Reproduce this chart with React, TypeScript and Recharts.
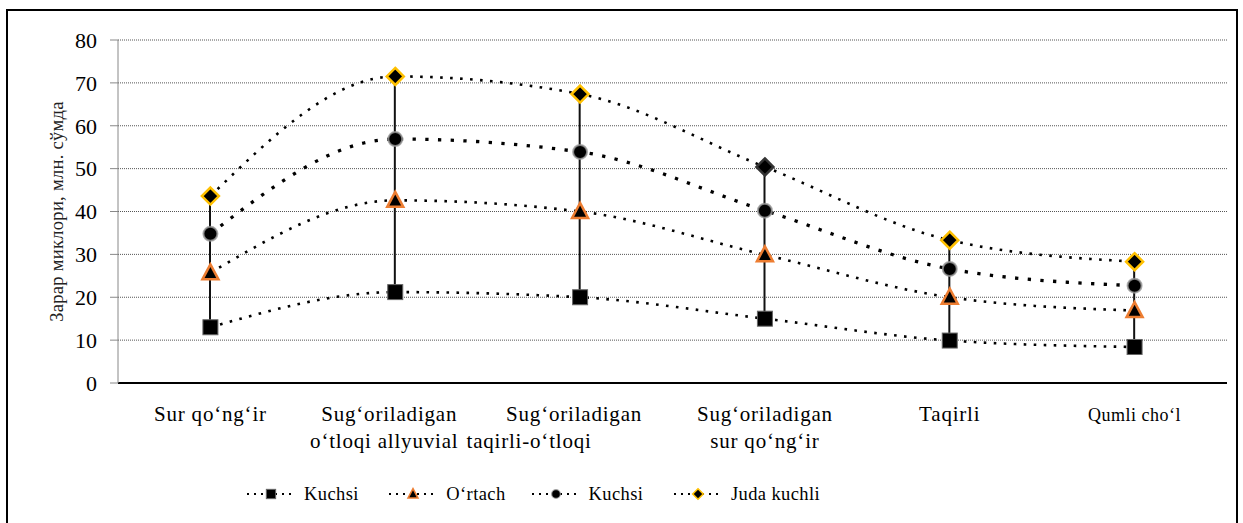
import { ComposedChart, Line, Bar, XAxis, YAxis, CartesianGrid, Legend } from 'recharts';

const categories = [
  'Sur qo‘ng‘ir',
  'Sug‘oriladigan o‘tloqi allyuvial',
  'Sug‘oriladigan taqirli-o‘tloqi',
  'Sug‘oriladigan sur qo‘ng‘ir',
  'Taqirli',
  'Qumli cho‘l',
];
const categoryLines = [
  ['Sur qo‘ng‘ir'],
  ['Sug‘oriladigan', 'o‘tloqi allyuvial'],
  ['Sug‘oriladigan', 'taqirli-o‘tloqi'],
  ['Sug‘oriladigan', 'sur qo‘ng‘ir'],
  ['Taqirli'],
  ['Qumli cho‘l'],
];
const kuchsi = [13.0, 21.2, 20.0, 15.0, 9.9, 8.4];
const ortach = [25.7, 42.6, 40.0, 29.9, 20.0, 16.9];
const kuchsiCircle = [34.8, 56.9, 53.9, 40.2, 26.6, 22.7];
const judaKuchli = [43.6, 71.5, 67.4, 50.4, 33.3, 28.3];
const yTicks = [0, 10, 20, 30, 40, 50, 60, 70, 80];
const legendNames = ['Kuchsi', 'O‘rtach', 'Kuchsi', 'Juda kuchli'];
const yLabel = 'Зарар миклори, млн. сўмда';

const data = categories.map((name, i) => {
  const vals = [kuchsi[i], ortach[i], kuchsiCircle[i], judaKuchli[i]];
  return {
    name,
    s0: kuchsi[i],
    s1: ortach[i],
    s2: kuchsiCircle[i],
    s3: judaKuchli[i],
    range: [Math.min(...vals), Math.max(...vals)],
  };
});

const font = 'Liberation Serif, Tinos, DejaVu Serif, serif';

function Marker({ kind, cx, cy, s = 1, dark = false }: any) {
  if (kind === 0) {
    return <rect x={cx - 7.5 * s} y={cy - 7.5 * s} width={15 * s} height={15 * s} fill="#000" stroke="#666" strokeWidth={1} />;
  }
  if (kind === 1) {
    const pts = `${cx},${cy - 8.5 * s} ${cx - 8 * s},${cy + 6.5 * s} ${cx + 8 * s},${cy + 6.5 * s}`;
    return <polygon points={pts} fill="#000" stroke="#ED7D31" strokeWidth={2.5 * s} strokeLinejoin="miter" />;
  }
  if (kind === 2) {
    return <circle cx={cx} cy={cy} r={7 * s} fill="#000" stroke="#999" strokeOpacity={0.8} strokeWidth={2 * s} />;
  }
  const d = 8.5 * s;
  const pts = `${cx},${cy - d} ${cx + d},${cy} ${cx},${cy + d} ${cx - d},${cy}`;
  return <polygon points={pts} fill="#000" stroke={dark ? '#333' : '#FFC000'} strokeWidth={2.5 * s} />;
}

const labelShift = [
  [0],
  [-6, -11],
  [-6, -51],
  [0, 0],
  [0],
  [0],
];

function CategoryTick({ x, y, payload, index }: any) {
  const i = payload?.index ?? index ?? 0;
  const lines = categoryLines[i] || [String(payload.value)];
  const small = i === 5;
  return (
    <g>
      {lines.map((ln, k) => (
        <text
          key={k}
          x={x + (labelShift[i]?.[k] ?? 0)}
          y={y + 30 + k * 27}
          textAnchor="middle"
          style={{ fontFamily: font, letterSpacing: small ? 0.5 : 0.8 }}
          fontSize={small ? 18 : 21}
          fill="#000"
        >
          {ln}
        </text>
      ))}
    </g>
  );
}

const renderLegend = () => (
  <div style={{ position: 'relative', height: 30, width: 1243 }}>
    {legendNames.map((n, i) => (
      <div
        key={i}
        style={{ position: 'absolute', left: 247 + i * 142.3, top: 0, height: 30, display: 'flex', alignItems: 'center' }}
      >
        <svg width={48} height={20}>
          <line x1={0} x2={48} y1={10} y2={10} stroke="#000" strokeWidth={2} strokeDasharray="2 5" />
          <Marker kind={i} cx={24} cy={10} s={0.62} />
        </svg>
        <span style={{ marginLeft: 9, fontFamily: font, fontSize: 18.5, letterSpacing: 0.4, color: '#000' }}>{n}</span>
      </div>
    ))}
  </div>
);

const seriesStyle = [
  { w: 2.6, dash: '2.6 7.4' },
  { w: 2.6, dash: '2.6 7.4' },
  { w: 3.3, dash: '3.3 9.4' },
  { w: 2.6, dash: '2.6 7.4' },
];

export default function App() {
  return (
    <div style={{ position: 'absolute', left: 0, top: 0, width: 1243, height: 523, overflow: 'hidden', background: '#fff', fontFamily: font }}>
      <div
        style={{
          position: 'absolute',
          left: 6,
          top: 9,
          width: 1232,
          height: 600,
          border: '2px solid #000',
          boxSizing: 'border-box',
        }}
      />
      <ComposedChart
        width={1243}
        height={523}
        data={data}
        margin={{ top: 40, right: 16, bottom: 50, left: 0 }}
        style={{ position: 'absolute', left: 0, top: 0, fontFamily: font }}
      >
        <CartesianGrid vertical={false} stroke="#555" strokeDasharray="1 1" />
        <XAxis
          dataKey="name"
          interval={0}
          tickLine={false}
          axisLine={{ stroke: '#000', strokeWidth: 2 }}
          tick={<CategoryTick />}
          height={60}
        />
        <YAxis
          domain={[0, 80]}
          ticks={yTicks}
          width={118}
          tickSize={8}
          tickMargin={13}
          axisLine={{ stroke: '#888' }}
          tickLine={{ stroke: '#888' }}
          tick={{ fontSize: 22, fill: '#000', style: { fontFamily: font } }}
          label={{
            value: yLabel,
            angle: -90,
            position: 'insideLeft',
            offset: 56,
            style: { textAnchor: 'middle', fontFamily: font, fontSize: 18.5, letterSpacing: 0.3, fill: '#222' },
          }}
        />
        <Legend
          content={renderLegend}
          verticalAlign="bottom"
          wrapperStyle={{ top: 479, left: 0, bottom: 'auto', width: 1243 }}
        />
        <Bar dataKey="range" barSize={2} fill="#111" isAnimationActive={false} legendType="none" />
        {['s0', 's1', 's2', 's3'].map((key, k) => (
          <Line
            key={key}
            dataKey={key}
            name={legendNames[k]}
            type="monotone"
            stroke="#000"
            strokeWidth={seriesStyle[k].w}
            strokeDasharray={seriesStyle[k].dash}
            isAnimationActive={false}
            activeDot={false}
            dot={(p: any) => (
              <Marker key={`${key}-${p.index}`} kind={k} cx={p.cx} cy={p.cy} dark={k === 3 && p.index === 3} />
            )}
          />
        ))}
      </ComposedChart>
    </div>
  );
}
